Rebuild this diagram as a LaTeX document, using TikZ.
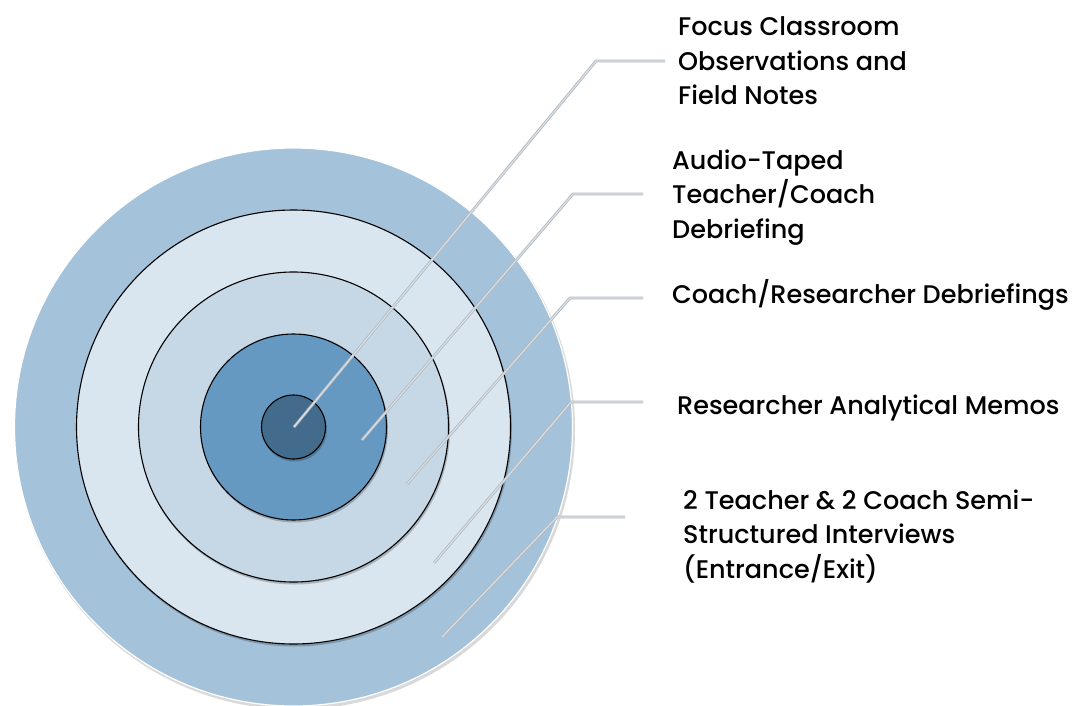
\documentclass[tikz,border=0pt]{standalone}
\usepackage{fontspec}
\setmainfont{Poppins}[UprightFont = * Medium]
\definecolor{ringA}{HTML}{A4C2DA}
\definecolor{ringB}{HTML}{DAE6EF}
\definecolor{ringC}{HTML}{C6D8E6}
\definecolor{ringD}{HTML}{6699C1}
\definecolor{ringE}{HTML}{436B8C}
\definecolor{leadDark}{HTML}{B2B9C0}
\definecolor{leadLight}{HTML}{D9DEE3}
\begin{document}
\begin{tikzpicture}[x=1pt,y=-1pt,
  ring/.style={draw=black, line width=1.1pt},
  ringshadow/.style={fill=black, opacity=0.22},
  leaderdark/.style={draw=leadDark, line width=2.8pt, line join=round},
  leaderlight/.style={draw=leadLight, line width=1.2pt, line join=round},
  lbl/.style={anchor=base west, inner sep=0pt, align=left, text=black,
              font=\fontsize{25.5}{34.5}\selectfont}]
\useasboundingbox (0,0) rectangle (1087,706);
\coordinate (c) at (293.5,427);
\coordinate (cs) at (294.5,429);
% outer disc
\fill[black, opacity=0.15] (295,429.5) circle[radius=280pt];
\filldraw[fill=ringA, draw=white, line width=1.2pt] (c) circle[radius=279pt];
% rings
\fill[ringshadow] (cs) circle[radius=217.5pt];
\filldraw[ring, fill=ringB] (c) circle[radius=217pt];
\fill[ringshadow] (cs) circle[radius=155.5pt];
\filldraw[ring, fill=ringC] (c) circle[radius=155pt];
\fill[ringshadow] (cs) circle[radius=93.5pt];
\filldraw[ring, fill=ringD] (c) circle[radius=93pt];
\fill[ringshadow] (cs) circle[radius=32.5pt];
\filldraw[ring, fill=ringE] (c) circle[radius=32pt];
% leader coordinates
\coordinate (e1) at (294,427); \coordinate (b1) at (596,61);  \coordinate (h1) at (665,61);
\coordinate (e2) at (362,440); \coordinate (b2) at (573,194); \coordinate (h2) at (643,194);
\coordinate (e3) at (407,484); \coordinate (b3) at (570,298); \coordinate (h3) at (643,298);
\coordinate (e4) at (434,563); \coordinate (b4) at (571,402); \coordinate (h4) at (643,402);
\coordinate (e5) at (442,637); \coordinate (b5) at (557,517); \coordinate (h5) at (625,517);
\foreach \i in {1,...,5}{
  \draw[leaderdark] (e\i) -- (b\i) -- (h\i);
  \draw[leaderlight] (e\i) -- (b\i) -- (h\i);
}
% labels (base anchor = baseline of the last line)
\node[lbl] (t1) at (678,105) {Focus Classroom\\Observations and\\Field Notes};
\node[lbl] (t2) at (672,238) {Audio-Taped\\Teacher/Coach\\Debriefing};
\node[lbl] (t3) at (672,303) {Coach/Researcher Debriefings};
\node[lbl] (t4) at (677,414) {Researcher Analytical Memos};
\node[lbl] (t5) at (683,578) {2 Teacher \& 2 Coach Semi-\\Structured Interviews\\(Entrance/Exit)};
\end{tikzpicture}
\end{document}
